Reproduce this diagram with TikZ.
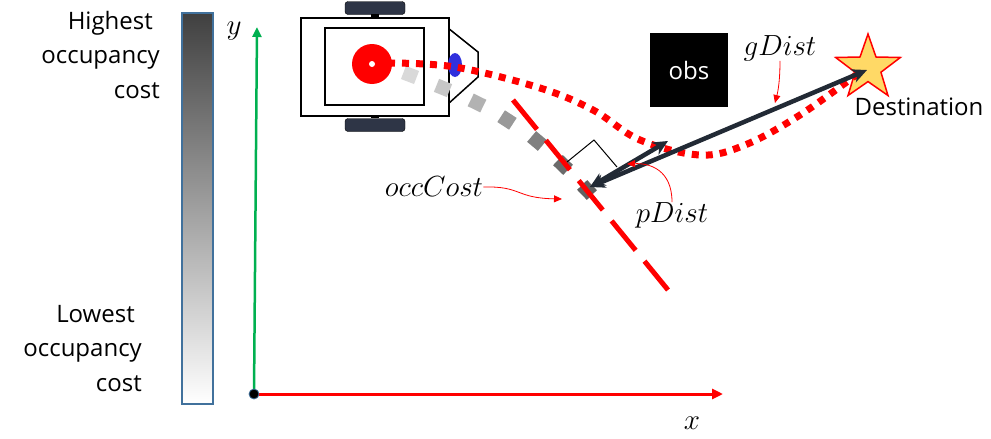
\documentclass[tikz,border=0pt]{standalone}
\usepackage{fontspec}
\setmainfont{Open Sans}
\usetikzlibrary{arrows.meta,shapes.geometric,calc}
\definecolor{navy}{HTML}{222A35}
\definecolor{wheel}{HTML}{2E3546}
\definecolor{barline}{HTML}{41719C}
\definecolor{axisgreen}{HTML}{00B050}
\definecolor{starfill}{HTML}{FFD966}
\definecolor{sensor}{HTML}{3030DD}
\newcommand{\bigmath}[1]{\scalebox{1.17}{\Huge$#1$}}
\tikzset{
  lbl/.style={font=\fontsize{24}{34.5}\selectfont, inner sep=0pt},
  mathlbl/.style={inner sep=0pt},
  distarrow/.style={navy, line width=4.5pt,
    {Stealth[length=15pt,width=14pt]}-{Stealth[length=15pt,width=14pt]}},
  note/.style={red, line width=0.8pt, -{Triangle[length=8pt,width=7pt]}},
  costsq/.style={rectangle, minimum size=14pt, inner sep=0pt},
}
\begin{document}
\begin{tikzpicture}[x=1pt,y=-1pt]
\useasboundingbox (0,0) rectangle (991,439);

% occupancy cost scale
\shade[top color=black!75, bottom color=white] (182,13) rectangle (213,404);
\draw[barline, line width=1.2pt] (182,13) rectangle (213,404);
\node[lbl, align=right, anchor=north east] (high) at (160,11) {Highest\hspace*{7pt}\\occupancy\hspace*{7pt}\\cost};
\node[lbl, align=right, anchor=north east] (low) at (142,305) {Lowest\hspace*{7pt}\\occupancy\hspace*{7pt}\\cost};

% axes
\coordinate (origin) at (254,394);
\coordinate (yend) at (257,27);
\coordinate (xend) at (723,394);
\draw[axisgreen, line width=2.5pt, -{Triangle[length=10pt,width=9pt]}] (origin) -- (yend);
\draw[red, line width=3pt, -{Triangle[length=11pt,width=10pt]}] (origin) -- (xend);
\fill[black] (origin) circle (5pt);
\draw[barline, line width=0.8pt] (origin) circle (5pt);
\node[mathlbl] (ylab) at (234,31) {\bigmath{y}};
\node[mathlbl] (xlab) at (692,423) {\bigmath{x}};

% robot
\node[fill=wheel, draw=black, rounded corners=3pt, minimum width=60pt, minimum height=13pt, inner sep=0pt] (wheelT) at (375,8) {};
\node[fill=wheel, draw=black, rounded corners=3pt, minimum width=60pt, minimum height=13pt, inner sep=0pt] (wheelB) at (375,125) {};
\fill[black] (371,14) rectangle (379,17);
\fill[black] (371,115) rectangle (379,118);
\draw[black, line width=1.5pt, fill=white] (448,28) -- (478,52) -- (478,77) -- (448,104);
\node[draw=black, fill=white, line width=1.5pt, minimum width=148pt, minimum height=98pt, inner sep=0pt, anchor=north west] (body) at (300,17) {};
\draw[black, line width=1.5pt] (325,28) rectangle (424,105);
\fill[sensor] (455,65) ellipse (7pt and 12pt);

% occupancy cost cells along the planned path
\foreach \px/\py/\ang/\shade in {410/75/21/15, 443/88/22/22, 477/103/26/30, 507/120/33/40, 537/141/40/50, 563/165/44/58, 587/190/46/62}{
  \node[costsq, fill=black!\shade, rotate=-\ang] at (\px,\py) {};
}
\fill[red] (372,64) circle (20pt);
\fill[white] (372,64) circle (3pt);

% tangent line of the occupancy cost
\coordinate (tanA) at (513,100);
\coordinate (tanB) at (668,290);
\draw[red, line width=5pt, dash pattern=on 38pt off 14pt] (tanA) -- (tanB);

% right angle marker
\draw[black, line width=1pt] (567,162) -- (594,140) -- (617,167);

% obstacle
\node[fill=black, text=white, lbl, minimum width=78pt, minimum height=74pt] (obs) at (689,70) {obs};

% destination
\node[star, star points=5, star point ratio=2.5, minimum size=68pt, inner sep=0pt, fill=starfill, draw=red, line width=1.5pt] (dest) at (868,68) {};
\node[lbl] (destlab) at (919,107) {Destination};

% planned trajectory
\draw[red, line width=7pt, dash pattern=on 7pt off 7pt] plot[smooth, tension=0.6] coordinates {(388,63) (455,67) (540,88) (593,110) (640,140) (700,155) (745,145) (800,115) (860,72)};

% distances
\coordinate (foot) at (590,187);
\coordinate (ptip) at (668,141);
\coordinate (gtip) at (867,70);
\draw[distarrow] (foot) -- (ptip);
\draw[distarrow] (foot) -- (gtip);

% labels with pointers
\node[mathlbl] (gd) at (780,48) {\bigmath{gDist}};
\node[mathlbl] (pd) at (672,215) {\bigmath{pDist}};
\node[mathlbl] (oc) at (434,187) {\bigmath{occCost}};
\draw[note] (gd.south) .. controls (780,85) and (777,95) .. (775,103);
\draw[note] (pd.north) .. controls (672,170) and (650,163) .. (627,164);
\draw[note] (oc.east) .. controls (522,186) and (515,198) .. (562,199);
\end{tikzpicture}
\end{document}
